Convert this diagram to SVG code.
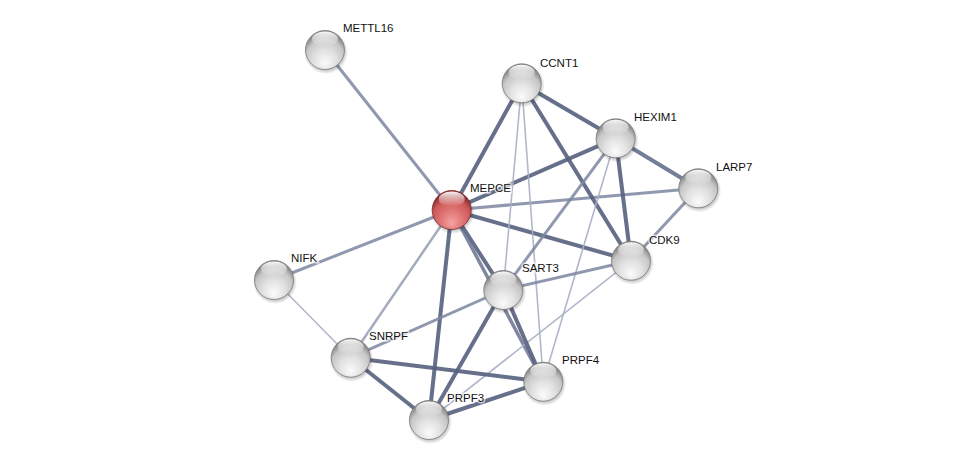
<svg xmlns="http://www.w3.org/2000/svg" width="975" height="465" viewBox="0 0 975 465">
<defs>
<radialGradient id="gw" cx="50%" cy="70%" r="62%" fx="50%" fy="85%">
<stop offset="0" stop-color="#fbfbfb"/>
<stop offset="0.45" stop-color="#e2e2e2"/>
<stop offset="0.8" stop-color="#c6c6c6"/>
<stop offset="1" stop-color="#8a8a8a"/>
</radialGradient>
<radialGradient id="gr" cx="50%" cy="70%" r="62%" fx="50%" fy="85%">
<stop offset="0" stop-color="#f5a3a3"/>
<stop offset="0.45" stop-color="#e07676"/>
<stop offset="0.8" stop-color="#cc5656"/>
<stop offset="1" stop-color="#8c2c2c"/>
</radialGradient>
<linearGradient id="hl" x1="0" y1="0" x2="0" y2="1">
<stop offset="0" stop-color="#ffffff" stop-opacity="0.95"/>
<stop offset="1" stop-color="#ffffff" stop-opacity="0"/>
</linearGradient>
<radialGradient id="sh" cx="50%" cy="50%" r="50%">
<stop offset="0.75" stop-color="#000" stop-opacity="0.3"/>
<stop offset="1" stop-color="#000" stop-opacity="0"/>
</radialGradient>
</defs>
<style>
.e{fill:none;stroke-linecap:butt}
.t{stroke:#56607e;stroke-width:4;stroke-opacity:0.9}
.m{stroke:#7d86a2;stroke-width:3;stroke-opacity:0.85}
.l{stroke:#a9afc4;stroke-width:1.6;stroke-opacity:0.9}
.s{fill:url(#sh)}
.w{fill:url(#gw);stroke:#7a7a7a;stroke-width:0.8}
.r{fill:url(#gr);stroke:#7a2828;stroke-width:0.8}
.h{fill:url(#hl)}
.lab{font-family:"Liberation Sans",Arial,sans-serif;font-size:11.5px;fill:#111;stroke:#fff;stroke-width:3;stroke-opacity:0.7;paint-order:stroke}
</style>
<rect width="975" height="465" fill="#ffffff"/>
<g id="edges">
<line class="e m" x1="325" y1="50" x2="451.7" y2="210"/>
<line class="e t" x1="451.7" y1="210" x2="521.7" y2="83.3"/>
<line class="e t" x1="451.7" y1="210" x2="615.7" y2="138.3"/>
<line class="e m" x1="451.7" y1="210" x2="698.3" y2="188.3"/>
<line class="e t" x1="451.7" y1="210" x2="631" y2="260.7"/>
<line class="e m" x1="451.7" y1="210" x2="274" y2="280"/>
<line class="e t" x1="451.7" y1="210" x2="503.3" y2="290"/>
<line class="e m" x1="451.7" y1="210" x2="543.3" y2="381.7" style="stroke:#6a7391;stroke-width:3.5"/>
<line class="e m" x1="451.7" y1="210" x2="350.7" y2="357.7" style="stroke:#959cb4;stroke-width:2.5"/>
<line class="e t" x1="451.7" y1="210" x2="429" y2="420"/>
<line class="e t" x1="521.7" y1="83.3" x2="615.7" y2="138.3"/>
<line class="e t" x1="521.7" y1="83.3" x2="631" y2="260.7"/>
<line class="e l" x1="521.7" y1="83.3" x2="503.3" y2="290"/>
<line class="e l" x1="521.7" y1="83.3" x2="543.3" y2="381.7"/>
<line class="e t" x1="615.7" y1="138.3" x2="698.3" y2="188.3" style="stroke:#66708d"/>
<line class="e t" x1="615.7" y1="138.3" x2="631" y2="260.7"/>
<line class="e m" x1="615.7" y1="138.3" x2="503.3" y2="290"/>
<line class="e l" x1="615.7" y1="138.3" x2="543.3" y2="381.7"/>
<line class="e m" x1="698.3" y1="188.3" x2="631" y2="260.7"/>
<line class="e m" x1="631" y1="260.7" x2="503.3" y2="290"/>
<line class="e l" x1="631" y1="260.7" x2="429" y2="420"/>
<line class="e m" x1="503.3" y1="290" x2="350.7" y2="357.7"/>
<line class="e t" x1="503.3" y1="290" x2="429" y2="420"/>
<line class="e t" x1="503.3" y1="290" x2="543.3" y2="381.7"/>
<line class="e t" x1="350.7" y1="357.7" x2="429" y2="420"/>
<line class="e t" x1="350.7" y1="357.7" x2="543.3" y2="381.7"/>
<line class="e t" x1="429" y1="420" x2="543.3" y2="381.7"/>
<line class="e l" x1="274" y1="280" x2="350.7" y2="357.7"/>
</g>
<g id="METTL16"><circle class="s" cx="326" cy="52" r="22"/><circle class="w" cx="325" cy="50" r="19.5"/><ellipse class="h" cx="325" cy="39" rx="13" ry="7.5"/><text class="lab" x="343" y="32">METTL16</text></g>
<g id="CCNT1"><circle class="s" cx="522.7" cy="85.3" r="22"/><circle class="w" cx="521.7" cy="83.3" r="19.5"/><ellipse class="h" cx="521.7" cy="72.3" rx="13" ry="7.5"/><text class="lab" x="540" y="67">CCNT1</text></g>
<g id="HEXIM1"><circle class="s" cx="616.7" cy="140.3" r="22"/><circle class="w" cx="615.7" cy="138.3" r="19.5"/><ellipse class="h" cx="615.7" cy="127.3" rx="13" ry="7.5"/><text class="lab" x="634" y="121">HEXIM1</text></g>
<g id="LARP7"><circle class="s" cx="699.3" cy="190.3" r="22"/><circle class="w" cx="698.3" cy="188.3" r="19.5"/><ellipse class="h" cx="698.3" cy="177.3" rx="13" ry="7.5"/><text class="lab" x="716" y="171">LARP7</text></g>
<g id="MEPCE"><circle class="s" cx="452.7" cy="212" r="22"/><circle class="r" cx="451.7" cy="210" r="19.5"/><ellipse class="h" cx="451.7" cy="199" rx="13" ry="7.5"/><text class="lab" x="470" y="192">MEPCE</text></g>
<g id="CDK9"><circle class="s" cx="632" cy="262.7" r="22"/><circle class="w" cx="631" cy="260.7" r="19.5"/><ellipse class="h" cx="631" cy="249.7" rx="13" ry="7.5"/><text class="lab" x="649" y="244">CDK9</text></g>
<g id="NIFK"><circle class="s" cx="275" cy="282" r="22"/><circle class="w" cx="274" cy="280" r="19.5"/><ellipse class="h" cx="274" cy="269" rx="13" ry="7.5"/><text class="lab" x="291" y="262">NIFK</text></g>
<g id="SART3"><circle class="s" cx="504.3" cy="292" r="22"/><circle class="w" cx="503.3" cy="290" r="19.5"/><ellipse class="h" cx="503.3" cy="279" rx="13" ry="7.5"/><text class="lab" x="522" y="272">SART3</text></g>
<g id="SNRPF"><circle class="s" cx="351.7" cy="359.7" r="22"/><circle class="w" cx="350.7" cy="357.7" r="19.5"/><ellipse class="h" cx="350.7" cy="346.7" rx="13" ry="7.5"/><text class="lab" x="369" y="340">SNRPF</text></g>
<g id="PRPF4"><circle class="s" cx="544.3" cy="383.7" r="22"/><circle class="w" cx="543.3" cy="381.7" r="19.5"/><ellipse class="h" cx="543.3" cy="370.7" rx="13" ry="7.5"/><text class="lab" x="562" y="364">PRPF4</text></g>
<g id="PRPF3"><circle class="s" cx="430" cy="422" r="22"/><circle class="w" cx="429" cy="420" r="19.5"/><ellipse class="h" cx="429" cy="409" rx="13" ry="7.5"/><text class="lab" x="447" y="402">PRPF3</text></g>
</svg>
